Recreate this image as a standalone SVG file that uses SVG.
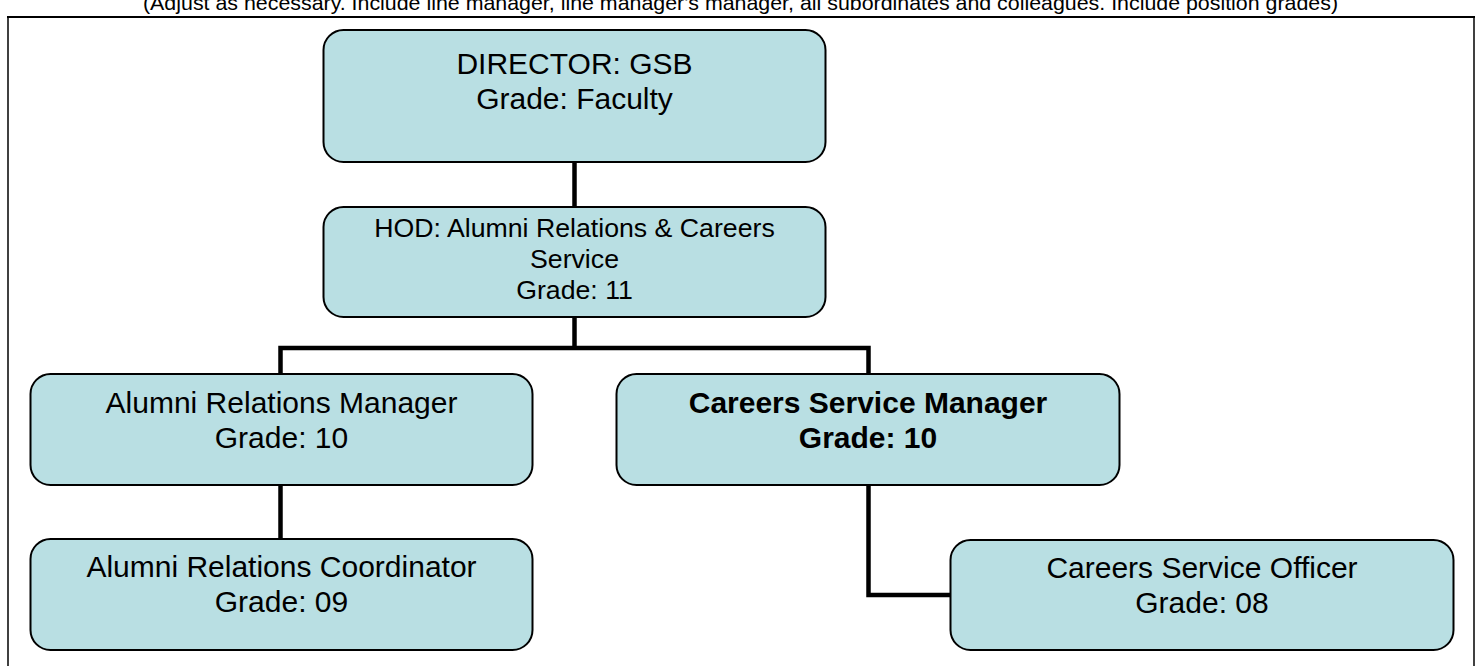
<svg xmlns="http://www.w3.org/2000/svg" width="1483" height="666" viewBox="0 0 1483 666">
<style>
.box{fill:#B9DFE3;stroke:#000;stroke-width:2}
.t{font-family:"Liberation Sans",Arial,sans-serif;font-size:30px;fill:#000;text-anchor:middle}
.b{font-weight:bold}
.conn{fill:none;stroke:#000;stroke-width:4.5;stroke-linejoin:miter}
</style>
<rect width="1483" height="666" fill="#fff"/>
<text x="740.5" y="10" style="font-family:'Liberation Sans',Arial,sans-serif;font-size:21px;text-anchor:middle" textLength="1195" lengthAdjust="spacingAndGlyphs">(Adjust as necessary. Include line manager, line manager's manager, all subordinates and colleagues. Include position grades)</text>
<g id="frame" fill="none" stroke="#000">
<line x1="7" y1="17" x2="1475" y2="17" stroke-width="2.2"/>
<line x1="8" y1="16" x2="8" y2="670" stroke-width="1.5"/>
<line x1="1474" y1="16" x2="1474" y2="670" stroke-width="1.5"/>
</g>
<g id="connectors" class="conn">
<line x1="574.5" y1="162" x2="574.5" y2="207"/>
<line x1="574.5" y1="317" x2="574.5" y2="348"/>
<polyline points="280.5,374 280.5,348 868.5,348 868.5,374"/>
<line x1="280.5" y1="485" x2="280.5" y2="539"/>
<polyline points="868.5,485 868.5,595 950,595"/>
</g>
<g id="director">
<rect class="box" x="323.5" y="30" width="502" height="132" rx="20"/>
<text class="t" x="574.5" y="74">DIRECTOR: GSB</text>
<text class="t" x="574.5" y="109">Grade: Faculty</text>
</g>
<g id="hod">
<rect class="box" x="323.5" y="207" width="502" height="110" rx="20"/>
<text class="t" x="574.5" y="237" style="font-size:26.7px">HOD: Alumni Relations &amp; Careers</text>
<text class="t" x="574.5" y="268" style="font-size:26.7px">Service</text>
<text class="t" x="574.5" y="299" style="font-size:26.7px">Grade: 11</text>
</g>
<g id="alumni-manager">
<rect class="box" x="30.5" y="374" width="502" height="111" rx="20"/>
<text class="t" x="281.5" y="413">Alumni Relations Manager</text>
<text class="t" x="281.5" y="448">Grade: 10</text>
</g>
<g id="careers-manager">
<rect class="box" x="616.5" y="374" width="503" height="111" rx="20"/>
<text class="t b" x="868" y="413">Careers Service Manager</text>
<text class="t b" x="868" y="448">Grade: 10</text>
</g>
<g id="alumni-coordinator">
<rect class="box" x="30.5" y="539" width="502" height="111" rx="20"/>
<text class="t" x="281.5" y="577">Alumni Relations Coordinator</text>
<text class="t" x="281.5" y="612">Grade: 09</text>
</g>
<g id="careers-officer">
<rect class="box" x="950.5" y="540" width="503" height="110" rx="20"/>
<text class="t" x="1202" y="578">Careers Service Officer</text>
<text class="t" x="1202" y="613">Grade: 08</text>
</g>
</svg>
